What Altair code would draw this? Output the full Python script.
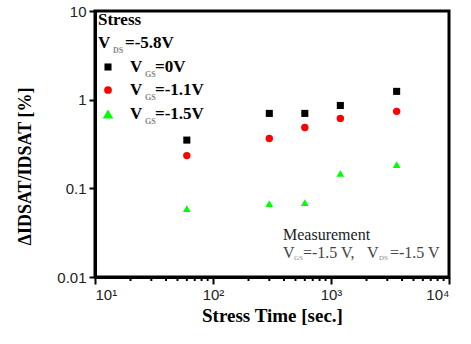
import altair as alt
import pandas as pd

# ---- data ----
stress_time = [60, 300, 600, 1200, 3600]
vgs0 = [0.35, 0.70, 0.70, 0.86, 1.24]
vgs11 = [0.234, 0.365, 0.486, 0.615, 0.738]
vgs15 = [0.059, 0.067, 0.069, 0.147, 0.185]
series_names = ["VGS=0V", "VGS=-1.1V", "VGS=-1.5V"]
series_colors = ["#000000", "#ff0000", "#00ff00"]
series_shapes = ["square", "circle", "triangle-up"]
series_sizes = [50, 60, 110]

x_major = [10, 100, 1000, 10000]
x_minor = [20, 30, 40, 50, 60, 70, 80, 90,
           200, 300, 400, 500, 600, 700, 800, 900,
           2000, 3000, 4000, 5000, 6000, 7000, 8000, 9000]
y_ticks = [0.01, 0.1, 1, 10]

rows = []
for name, vals in zip(series_names, [vgs0, vgs11, vgs15]):
    for t, v in zip(stress_time, vals):
        rows.append({"series": name, "time": t, "value": v})
df = pd.DataFrame(rows)

one = pd.DataFrame({"a": [0]})
xmin_df = pd.DataFrame({"time": x_minor})

SERIF = "Liberation Serif"
SANS = "Liberation Sans"
W, H = 354, 266


def txt(s, x, y, size, weight="bold", color="black", font=SERIF, angle=0, align="left"):
    return alt.Chart(one).mark_text(
        text=s, font=font, fontSize=size, fontWeight=weight, color=color,
        align=align, baseline="middle", angle=angle,
    ).encode(x=alt.value(x), y=alt.value(y))


label_expr = ("datum.value == 10 ? '10\u00b9' : datum.value == 100 ? '10\u00b2' : "
              "datum.value == 1000 ? '10\u00b3' : datum.value == 10000 ? '10\u2074' : ''")

xscale = alt.Scale(type="log", domain=[10, 10000], nice=False)
yscale = alt.Scale(type="log", domain=[0.01, 10], nice=False)

x_enc = alt.X(
    "time:Q",
    scale=xscale,
    axis=alt.Axis(
        values=x_major,
        labelExpr=label_expr,
        labelOverlap=False,
        labelBound=False,
        labelFont=SANS, labelFontSize=15, labelColor="#222",
        labelPadding=3,
        ticks=True, tickSize=7, tickColor="black", tickWidth=2,
        domain=True, domainColor="black", domainWidth=3,
        grid=False,
        title="Stress Time [sec.]",
        titleFont=SERIF, titleFontSize=19, titleFontWeight="bold", titleColor="black",
        titlePadding=4,
    ),
)
y_enc = alt.Y(
    "value:Q",
    scale=yscale,
    axis=alt.Axis(
        values=y_ticks,
        labelExpr="datum.value == 0.01 ? '0.01' : datum.value == 0.1 ? '0.1' : datum.value == 1 ? '1' : '10'",
        labelFont=SANS, labelFontSize=15, labelColor="#222",
        labelPadding=3, labelOverlap=False, labelBound=False,
        ticks=True, tickSize=6, tickColor="black", tickWidth=2,
        domain=True, domainColor="black", domainWidth=3,
        grid=False,
        title="\u0394IDSAT/IDSAT [%]",
        titleFont=SERIF, titleFontSize=18, titleFontWeight="bold", titleColor="black",
        titlePadding=22,
        titleY=155,
    ),
)

points = alt.Chart(df).mark_point(filled=True, opacity=1).encode(
    x=x_enc,
    y=y_enc,
    color=alt.Color("series:N", scale=alt.Scale(domain=series_names, range=series_colors), legend=None),
    shape=alt.Shape("series:N", scale=alt.Scale(domain=series_names, range=series_shapes), legend=None),
    size=alt.Size("series:O", scale=alt.Scale(domain=series_names, range=series_sizes), legend=None),
)

xmin_ticks = alt.Chart(xmin_df).mark_rule(color="black", strokeWidth=2).encode(
    x=x_enc, y=alt.value(H), y2=alt.value(H + 4)
)

# legend symbols
leg_sym = []
for (sx, sy), col, shp, sz in zip([(13, 56), (13, 79), (13, 103)], series_colors, series_shapes, series_sizes):
    leg_sym.append(
        alt.Chart(one).mark_point(filled=True, opacity=1, shape=shp, color=col, size=sz)
        .encode(x=alt.value(sx), y=alt.value(sy))
    )

legend_text = [
    txt("Stress", 3, 9, 17),
    txt("V", 3, 32, 17),
    txt("DS", 18, 40, 8, color="#888"),
    txt("=-5.8V", 30, 32, 17),
    txt("V", 35, 56, 17), txt("GS", 50, 64, 8, color="#888"), txt("=0V", 60, 56, 17),
    txt("V", 35, 79, 17), txt("GS", 50, 87, 8, color="#888"), txt("=-1.1V", 60, 79, 17),
    txt("V", 35, 103, 17), txt("GS", 50, 111, 8, color="#888"), txt("=-1.5V", 60, 103, 17),
]

meas_text = [
    txt("Measurement", 188, 224, 16, weight="normal", color="#222"),
    txt("V", 188, 242, 16, weight="normal", color="#444"),
    txt("GS", 199, 247, 7, weight="normal", color="#888"),
    txt("=-1.5 V,", 208, 242, 16, weight="normal", color="#444"),
    txt("V", 272, 242, 16, weight="normal", color="#444"),
    txt("DS", 284, 247, 7, weight="normal", color="#888"),
    txt("=-1.5 V", 295, 242, 16, weight="normal", color="#444"),
]

chart = alt.layer(points, xmin_ticks, *leg_sym, *legend_text, *meas_text).properties(
    width=W, height=H,
    autosize=alt.AutoSizeParams(type="none"),
    padding={"left": 95, "top": 11, "right": 22, "bottom": 67},
    background="white",
).configure_view(stroke="black", strokeWidth=3)

chart.save("out.html", embed_options={"renderer": "svg", "actions": False})
